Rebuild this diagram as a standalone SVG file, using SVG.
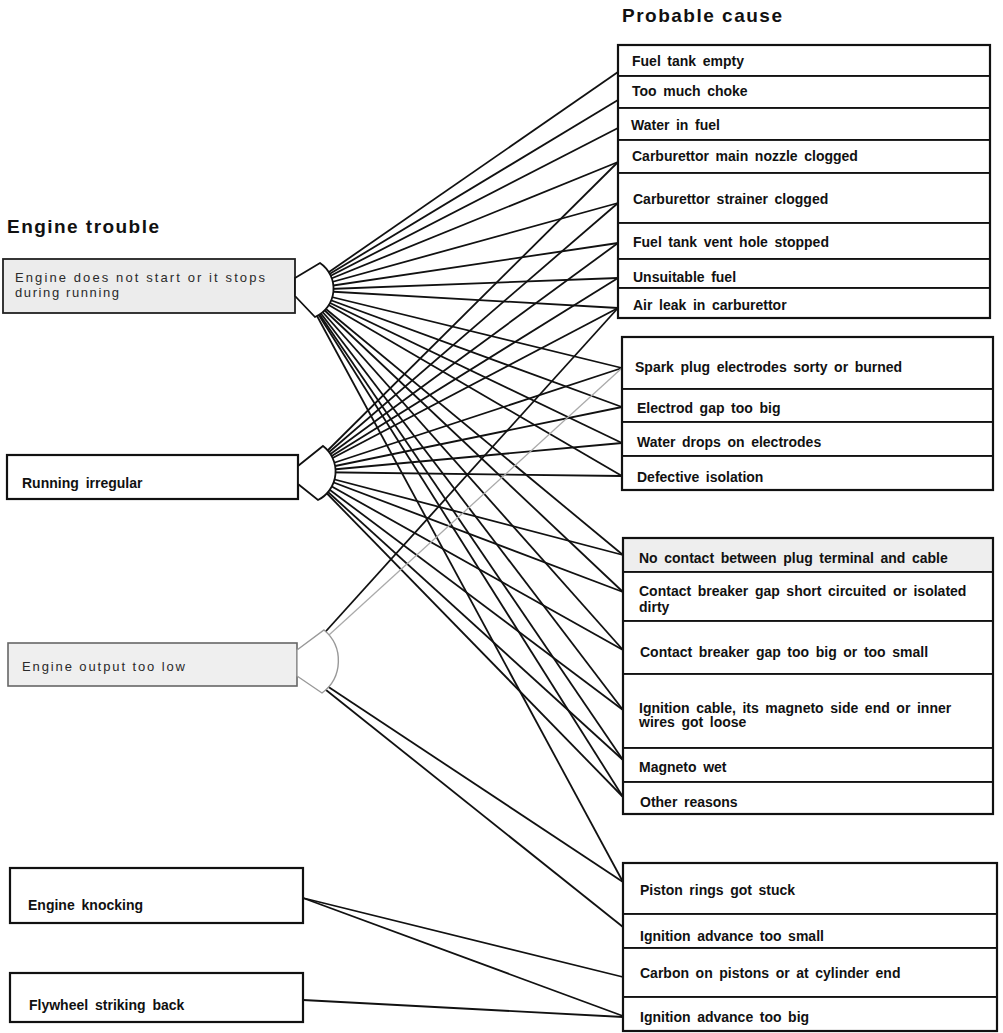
<svg xmlns="http://www.w3.org/2000/svg" width="1003" height="1033" viewBox="0 0 1003 1033">
<style>
.bg{fill:#fff}
.title{font-family:"Liberation Sans",Arial,sans-serif;font-weight:bold;font-size:19px;fill:#111}
.t{font-family:"Liberation Sans",Arial,sans-serif;font-weight:bold;font-size:14px;word-spacing:2.7px;fill:#111}
.lt{font-family:"Liberation Sans",Arial,sans-serif;font-size:13px;fill:#2a2a2a}
.ltb{font-family:"Liberation Sans",Arial,sans-serif;font-weight:bold;font-size:14px;word-spacing:3px;fill:#111}
.row{fill:#fff;stroke:#111;stroke-width:1.8}
.grp{fill:none;stroke:#111;stroke-width:2.2}
.box{fill:#fff;stroke:#111;stroke-width:2.2}
.gbox{fill:#ececec;stroke:#222;stroke-width:1.8}
.fan{fill:#fff;stroke:#111;stroke-width:1.8}
.fanf{fill:#fff;stroke:#999;stroke-width:1.4}
.c{stroke:#111;stroke-width:1.8;fill:none}
.cf{stroke:#aaa;stroke-width:1.3;fill:none}
</style>
<rect class="bg" x="0" y="0" width="1003" height="1033"/>
<text class="title" x="622" y="22" textLength="160">Probable cause</text>
<text class="title" x="7" y="233" textLength="152">Engine trouble</text>

<g id="connectors">
<!-- fan 1 -->
<line class="c" x1="303" y1="290" x2="618" y2="72"/>
<line class="c" x1="303" y1="290" x2="618" y2="100"/>
<line class="c" x1="303" y1="290" x2="618" y2="128"/>
<line class="c" x1="303" y1="290" x2="618" y2="162"/>
<line class="c" x1="303" y1="290" x2="618" y2="203"/>
<line class="c" x1="303" y1="290" x2="618" y2="243"/>
<line class="c" x1="303" y1="290" x2="618" y2="278"/>
<line class="c" x1="303" y1="290" x2="618" y2="308"/>
<line class="c" x1="303" y1="290" x2="622" y2="368"/>
<line class="c" x1="303" y1="290" x2="622" y2="407"/>
<line class="c" x1="303" y1="290" x2="622" y2="443"/>
<line class="c" x1="303" y1="290" x2="622" y2="476"/>
<line class="c" x1="303" y1="290" x2="623" y2="555"/>
<line class="c" x1="303" y1="290" x2="623" y2="592"/>
<line class="c" x1="303" y1="290" x2="623" y2="650"/>
<line class="c" x1="303" y1="290" x2="623" y2="710"/>
<line class="c" x1="303" y1="290" x2="623" y2="760"/>
<line class="c" x1="303" y1="290" x2="623" y2="797"/>
<line class="c" x1="303" y1="290" x2="623" y2="882"/>
<!-- fan 2 -->
<line class="c" x1="306" y1="472" x2="618" y2="162"/>
<line class="c" x1="306" y1="472" x2="618" y2="203"/>
<line class="c" x1="306" y1="472" x2="618" y2="243"/>
<line class="c" x1="306" y1="472" x2="618" y2="278"/>
<line class="c" x1="306" y1="472" x2="618" y2="308"/>
<line class="c" x1="306" y1="472" x2="622" y2="368"/>
<line class="c" x1="306" y1="472" x2="622" y2="407"/>
<line class="c" x1="306" y1="472" x2="622" y2="443"/>
<line class="c" x1="306" y1="472" x2="622" y2="476"/>
<line class="c" x1="306" y1="472" x2="623" y2="555"/>
<line class="c" x1="306" y1="472" x2="623" y2="592"/>
<line class="c" x1="306" y1="472" x2="623" y2="650"/>
<line class="c" x1="306" y1="472" x2="623" y2="710"/>
<line class="c" x1="306" y1="472" x2="623" y2="760"/>
<line class="c" x1="306" y1="472" x2="623" y2="797"/>
<!-- fan 3 -->
<line class="c" x1="318" y1="640" x2="618" y2="308"/>
<line class="cf" x1="318" y1="645" x2="622" y2="368"/>
<line class="c" x1="318" y1="680" x2="623" y2="882"/>
<line class="c" x1="316" y1="682" x2="623" y2="927"/>
<!-- knocking / flywheel -->
<line class="c" x1="303" y1="898" x2="623" y2="977"/>
<line class="c" x1="303" y1="898" x2="623" y2="1016"/>
<line class="c" x1="303" y1="1000" x2="623" y2="1017"/>
</g>

<g id="trouble-not-start">
<rect class="gbox" x="3" y="259" width="292" height="54"/>
<path class="fan" d="M295 278 L320 263 A31 31 0 0 1 315 317 L295 296 Z"/>
<text class="lt" x="15" y="282" textLength="250">Engine does not start or it stops</text>
<text class="lt" x="15" y="297" textLength="104">during running</text>
</g>
<g id="trouble-irregular">
<rect class="box" x="7" y="455" width="291" height="44"/>
<path class="fan" d="M298 466 L323 446 A32 32 0 0 1 318 500 L298 484 Z"/>
<text class="ltb" x="22" y="488">Running irregular</text>
</g>
<g id="trouble-output-low">
<rect x="8" y="643" width="289" height="43" fill="#efefef" stroke="#666" stroke-width="1.6"/>
<path class="fanf" d="M297 650 L324 630 A40 40 0 0 1 322 693 L297 676 Z"/>
<text class="lt" x="22" y="671" textLength="163">Engine output too low</text>
</g>
<g id="trouble-knocking">
<rect class="box" x="10" y="868" width="293" height="55"/>
<text class="ltb" x="28" y="910">Engine knocking</text>
</g>
<g id="trouble-flywheel">
<rect class="box" x="10" y="973" width="293" height="49"/>
<text class="ltb" x="29" y="1010">Flywheel striking back</text>
</g>

<!-- Group A -->
<g id="cause-fuel-tank-empty"><rect class="row" x="618" y="45" width="372" height="31"/><text class="t" x="632" y="66">Fuel tank empty</text></g>
<g id="cause-too-much-choke"><rect class="row" x="618" y="76" width="372" height="32"/><text class="t" x="632" y="96">Too much choke</text></g>
<g id="cause-water-in-fuel"><rect class="row" x="618" y="108" width="372" height="32"/><text class="t" x="631" y="130">Water in fuel</text></g>
<g id="cause-main-nozzle"><rect class="row" x="618" y="140" width="372" height="33"/><text class="t" x="632" y="161">Carburettor main nozzle clogged</text></g>
<g id="cause-strainer"><rect class="row" x="618" y="173" width="372" height="50"/><text class="t" x="633" y="204">Carburettor strainer clogged</text></g>
<g id="cause-vent-hole"><rect class="row" x="618" y="223" width="372" height="36"/><text class="t" x="633" y="247">Fuel tank vent hole stopped</text></g>
<g id="cause-unsuitable-fuel"><rect class="row" x="618" y="259" width="372" height="29"/><text class="t" x="633" y="282">Unsuitable fuel</text></g>
<g id="cause-air-leak"><rect class="row" x="618" y="288" width="372" height="30"/><text class="t" x="633" y="310">Air leak in carburettor</text></g>
<rect class="grp" x="618" y="45" width="372" height="273"/>

<!-- Group B -->
<g id="cause-spark-plug"><rect class="row" x="622" y="337" width="371" height="52"/><text class="t" x="635" y="372">Spark plug electrodes sorty or burned</text></g>
<g id="cause-electrod-gap"><rect class="row" x="622" y="389" width="371" height="33"/><text class="t" x="637" y="413">Electrod gap too big</text></g>
<g id="cause-water-drops"><rect class="row" x="622" y="422" width="371" height="34"/><text class="t" x="637" y="447">Water drops on electrodes</text></g>
<g id="cause-defective-isolation"><rect class="row" x="622" y="456" width="371" height="34"/><text class="t" x="637" y="482">Defective isolation</text></g>
<rect class="grp" x="622" y="337" width="371" height="153"/>

<!-- Group C -->
<g id="cause-no-contact"><rect class="row" x="623" y="538" width="370" height="34" style="fill:#eeeeee"/><text class="t" x="639" y="563">No contact between plug terminal and cable</text></g>
<g id="cause-breaker-short"><rect class="row" x="623" y="572" width="370" height="49"/><text class="t" x="639" y="596">Contact breaker gap short circuited or isolated</text><text class="t" x="639" y="612">dirty</text></g>
<g id="cause-breaker-gap"><rect class="row" x="623" y="621" width="370" height="53"/><text class="t" x="640" y="657">Contact breaker gap too big or too small</text></g>
<g id="cause-ignition-cable"><rect class="row" x="623" y="674" width="370" height="74"/><text class="t" x="639" y="713">Ignition cable, its magneto side end or inner</text><text class="t" x="639" y="727">wires got loose</text></g>
<g id="cause-magneto-wet"><rect class="row" x="623" y="748" width="370" height="34"/><text class="t" x="639" y="772">Magneto wet</text></g>
<g id="cause-other"><rect class="row" x="623" y="782" width="370" height="32"/><text class="t" x="640" y="807">Other reasons</text></g>
<rect class="grp" x="623" y="538" width="370" height="276"/>

<!-- Group D -->
<g id="cause-piston-rings"><rect class="row" x="623" y="863" width="374" height="51"/><text class="t" x="640" y="895">Piston rings got stuck</text></g>
<g id="cause-advance-small"><rect class="row" x="623" y="914" width="374" height="34"/><text class="t" x="640" y="941">Ignition advance too small</text></g>
<g id="cause-carbon"><rect class="row" x="623" y="948" width="374" height="49"/><text class="t" x="640" y="978">Carbon on pistons or at cylinder end</text></g>
<g id="cause-advance-big"><rect class="row" x="623" y="997" width="374" height="34"/><text class="t" x="640" y="1022">Ignition advance too big</text></g>
<rect class="grp" x="623" y="863" width="374" height="168"/>
</svg>
